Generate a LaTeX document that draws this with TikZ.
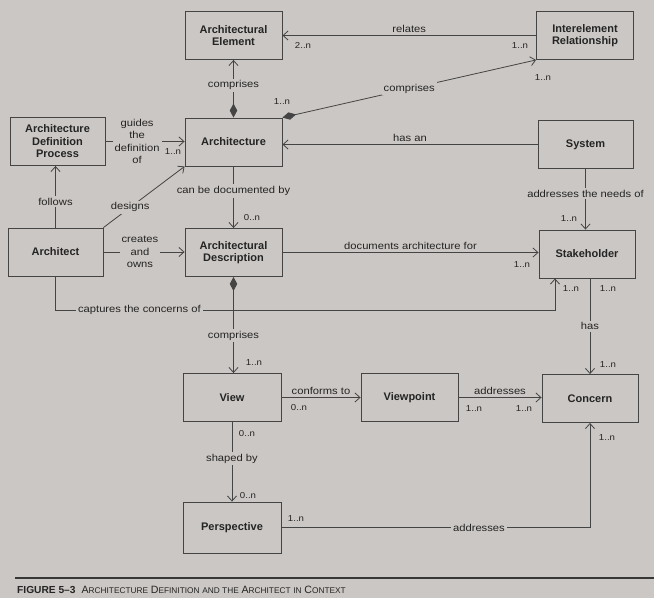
\documentclass[tikz,border=0pt]{standalone}
\usepackage{fontspec}
\setmainfont{Liberation Sans}
\newfontfamily\lblfont[FakeStretch=1.12]{Liberation Sans}
\usetikzlibrary{arrows.meta}
\definecolor{paper}{RGB}{203,199,196}
\definecolor{ink}{RGB}{68,68,68}
\definecolor{txt}{RGB}{36,36,36}
% small capitals built from two sizes of the same face
\newcommand\capsword[2]{{\fontsize{10.6}{12}\selectfont #1}{\fontsize{8.3}{12}\selectfont #2}}
\begin{document}
\begin{tikzpicture}[x=1pt,y=-1pt,
  cls/.style={draw=ink, line width=0.9pt, minimum width=97pt, minimum height=48pt,
    align=center, font=\fontsize{11}{12.5}\selectfont\bfseries, text=txt, inner sep=2pt},
  assoc/.style={draw=ink, line width=0.8pt, -{Straight Barb[length=5pt,width=9pt]}},
  comp/.style={draw=ink, line width=0.8pt,
    {Diamond[length=14pt,width=7.5pt]}-{Straight Barb[length=5pt,width=9pt]}},
  lbl/.style={font=\lblfont\fontsize{10}{12.5}\selectfont, text=txt, inner sep=2pt, align=center},
  cut/.style={lbl, fill=paper},
  mult/.style={font=\lblfont\fontsize{8.6}{10}\selectfont, text=txt, inner sep=0pt},
]
\fill[paper] (0,0) rectangle (654,598);
\useasboundingbox (0,0) rectangle (654,598);

% classes
\node[cls] (AE)  at (233.5,35.5) {Architectural\\Element};
\node[cls] (IR)  at (585,35.5)   {Interelement\\Relationship};
\node[cls] (AR)  at (233.5,142)  {Architecture};
\node[cls,minimum width=95pt] (ADP) at (57.5,141.5) {Architecture\\Definition\\Process};
\node[cls,minimum width=95pt] (AT)  at (55.5,252)   {Architect};
\node[cls] (AD)  at (233.5,252.5) {Architectural\\Description};
\node[cls,minimum width=95pt] (SY)  at (585.5,144.5) {System};
\node[cls,minimum width=96pt] (SH)  at (587,254)   {Stakeholder};
\node[cls,minimum width=98pt] (VW)  at (232,397.5) {View};
\node[cls] (VP)  at (409.5,397.5) {Viewpoint};
\node[cls,minimum width=96pt] (CO)  at (590,398.5) {Concern};
\node[cls,minimum width=98pt,minimum height=51pt] (PE) at (232,527.5) {Perspective};

% associations
\draw[assoc] (IR.west) -- node[lbl,above=1pt]{relates} (IR.west -| AE.east);
\draw[comp] (AR.north) -- node[cut,pos=0.56]{comprises} (AR.north |- AE.south);
\draw[comp] (AR.north east) -- node[cut,pos=0.5]{comprises} (IR.south west);
\draw[assoc] (ADP.east) -- node[cut,pos=0.4]{guides\\the\\definition\\of} (ADP.east -| AR.west);
\draw[assoc] (SY.west) -- node[lbl,above=1pt]{has an} (SY.west -| AR.east);
\draw[assoc] (AT.north) -- node[cut,pos=0.42]{follows} (AT.north |- ADP.south);
\draw[assoc] (AT.north east) -- node[cut,pos=0.33]{designs} (AR.south west);
\draw[assoc] (AT.east) -- node[cut,pos=0.45]{creates\\and\\owns} (AT.east -| AD.west);
\draw[assoc] (AR.south) -- node[cut,pos=0.4]{can be documented by} (AD.north);
\draw[assoc] (AD.east) -- node[lbl,above=1pt]{documents architecture for} (AD.east -| SH.west);
\draw[assoc] (SY.south) -- node[cut,pos=0.41]{addresses the needs of} (SY.south |- SH.north);
\coordinate (capt) at (555,310);
\draw[assoc] (AT.south) |- node[cut,pos=0.584]{captures the concerns of} (capt) -- (capt |- SH.south);
\draw[assoc] (CO.north |- SH.south) -- node[cut]{has} (CO.north);
\draw[comp] (AD.south) -- node[cut,pos=0.61]{comprises} (AD.south |- VW.north);
\draw[assoc] (VW.east) -- node[lbl,above=1pt]{conforms to} (VW.east -| VP.west);
\draw[assoc] (VP.east) -- node[lbl,above=1pt]{addresses} (VP.east -| CO.west);
\draw[assoc] (VW.south) -- node[cut,pos=0.46]{shaped by} (PE.north);
\draw[assoc] (PE.east) -| node[cut,pos=0.32]{addresses} (CO.south);

% multiplicities
\node[mult] (m1)  at (303,45)  {2..n};
\node[mult] (m2)  at (520,46)  {1..n};
\node[mult] (m3)  at (282,102) {1..n};
\node[mult] (m4)  at (543,78)  {1..n};
\node[mult] (m5)  at (173,152) {1..n};
\node[mult] (m6)  at (252,218) {0..n};
\node[mult] (m7)  at (522,265) {1..n};
\node[mult] (m8)  at (569,219) {1..n};
\node[mult] (m9)  at (571,289) {1..n};
\node[mult] (m10) at (608,289) {1..n};
\node[mult] (m11) at (254,363) {1..n};
\node[mult] (m12) at (608,365) {1..n};
\node[mult] (m13) at (299,408) {0..n};
\node[mult] (m14) at (474,409) {1..n};
\node[mult] (m15) at (524,409) {1..n};
\node[mult] (m16) at (247,434) {0..n};
\node[mult] (m17) at (248,496) {0..n};
\node[mult] (m18) at (296,519) {1..n};
\node[mult] (m19) at (607,438) {1..n};

% caption
\draw[ink!80!black, line width=1.3pt] (15,578) -- (654,578);
\node[anchor=west, text=txt, inner sep=0pt] (caption) at (17,590)
  {{\fontsize{10.2}{12}\selectfont\bfseries FIGURE 5--3}\hspace{6pt}%
   \capsword{A}{RCHITECTURE} \capsword{D}{EFINITION} {\fontsize{8.3}{12}\selectfont AND THE}
   \capsword{A}{RCHITECT} {\fontsize{8.3}{12}\selectfont IN} \capsword{C}{ONTEXT}};
\end{tikzpicture}
\end{document}
